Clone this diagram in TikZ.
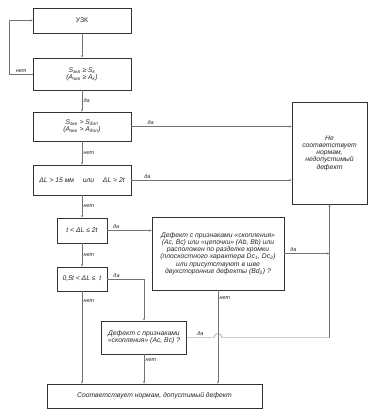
\documentclass[tikz,border=0pt]{standalone}
\usepackage{fontspec}
\setmainfont{Liberation Sans}
\usetikzlibrary{arrows.meta}
\begin{document}
\begin{tikzpicture}[x=1pt,y=1pt]
    \tikzstyle{every node}+=[font=\itshape\fontsize{6.8}{7.2}\selectfont, text=black!85]
    \tikzstyle{box}=[draw=black!80, line width=0.7pt, align=center, inner sep=1pt]
    \tikzstyle{line}=[draw=black!55, line width=0.4pt]
    \tikzstyle{arr}=[line, -{Stealth[length=2.5pt,width=2pt]}]
    \tikzstyle{lbl}=[font=\itshape\fontsize{5.5}{6}\selectfont, inner sep=1.5pt]
    \useasboundingbox (0,0) rectangle (373,-416);
    \node [box, minimum width=98, minimum height=25] (uzk) at (82,-20.5) {\upshape УЗК};
    \node [box, minimum width=98, minimum height=32] (ska) at (82,-74) {S\textsubscript{экв} ≥ S\textsubscript{к}\\(A\textsubscript{экв} ≥ A\textsubscript{к})};
    \node [box, minimum width=98, minimum height=29] (sdop) at (82,-126.5) {S\textsubscript{экв} > S\textsubscript{доп}\\(A\textsubscript{экв} > A\textsubscript{доп})};
    \node [box, minimum width=98, minimum height=30] (dl) at (82,-180) {ΔL > 15 мм \quad или \quad ΔL > 2t};
    \node [box, minimum width=75, minimum height=102] (ne) at (329.5,-153) {Не\\соответствует\\нормам,\\недопустимый\\дефект};
    \node [box, minimum width=50, minimum height=25] (t2) at (82,-230.5) {t < ΔL ≤ 2t};
    \node [box, minimum width=50, minimum height=24] (t05) at (82,-279) {0,5t < ΔL ≤ \ t};
    \node [box, minimum width=132, minimum height=73] (big) at (218,-253.5) {Дефект с признаками «скопления»\\(Ac, Bc) или «цепочки» (Ab, Bb) или\\расположен по разделке кромки\\(плоскостного характера Dc\textsubscript{1}, Dc\textsubscript{2})\\или присутствуют в шве\\двухсторонние дефекты (Bd\textsubscript{2}) ?};
    \node [box, minimum width=85, minimum height=33] (skop) at (144,-337.5) {Дефект с признаками\\«скопления» (Ac, Bc) ?};
    \node [box, minimum width=215, minimum height=24] (ok) at (154.5,-396) {Соответствует нормам, допустимый дефект};
    \coordinate (jn) at (ne.south |- skop.east);
    \draw [arr] (uzk) -- (ska);
    \draw [arr] (ska.west) -- node [lbl, above] {нет} ++(-23,0) |- (uzk.west);
    \draw [arr] (ska) -- node [lbl, right] {да} (sdop);
    \draw [arr] (sdop.east) -- node [lbl, above, pos=0.12] {да} (sdop.east -| ne.west);
    \draw [arr] (sdop) -- node [lbl, right] {нет} (dl);
    \draw [arr] (dl.east) -- node [lbl, above, pos=0.1] {да} (dl.east -| ne.west);
    \draw [arr] (dl) -- node [lbl, right] {нет} (t2);
    \draw [arr] (t2.east) -- node [lbl, above, pos=0.2] {да} (t2.east -| big.west);
    \draw [arr] (t2) -- node [lbl, right] {нет} (t05);
    \draw [arr] (t05.east) -- node [lbl, above, pos=0.25] {да} (t05.east -| skop.north) -- (skop.north);
    \draw [arr] (t05.south) -- node [lbl, right, pos=0.1] {нет} (t05.south |- ok.north);
    \draw [arr] (skop.south) -- node [lbl, right, pos=0.2] {нет} (skop.south |- ok.north);
    \draw [arr] (big.south) -- node [lbl, right, pos=0.08] {нет} (big.south |- ok.north);
    \draw [arr] (big.east) -- node [lbl, above, pos=0.2] {да} (big.east -| jn);
    \draw [line] (skop.east) -- node [lbl, above] {да} (214,-337.5) arc [start angle=180, end angle=0, radius=4] -- (jn);
    \draw [arr] (jn) -- (ne.south);
\end{tikzpicture}
\end{document}
